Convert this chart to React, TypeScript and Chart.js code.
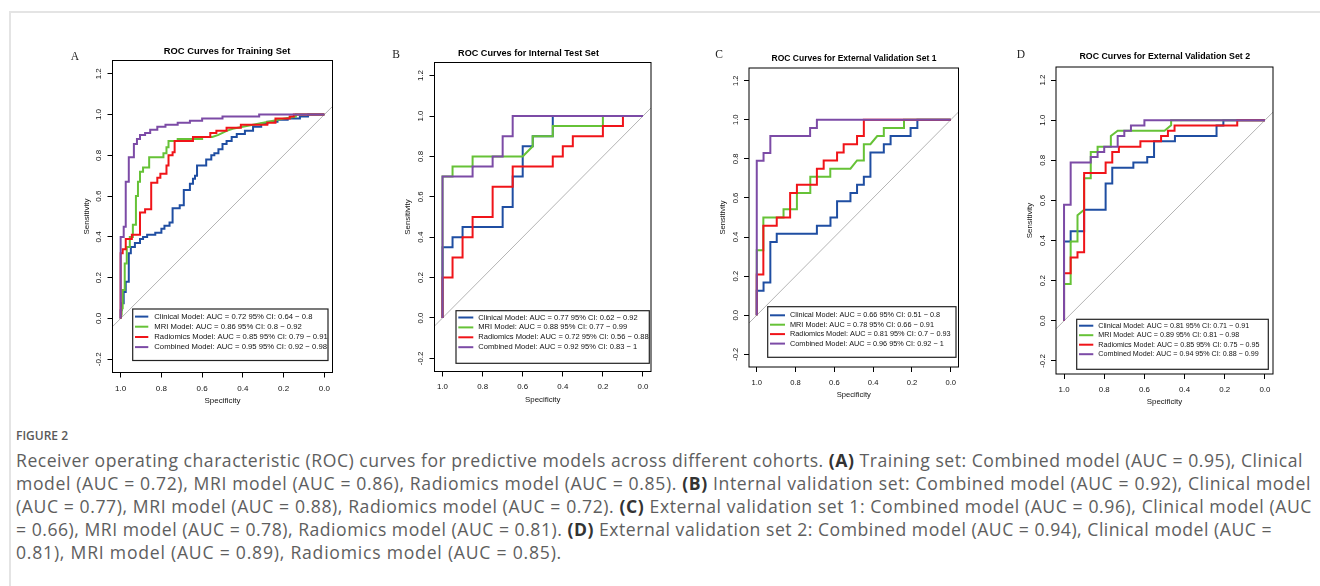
import React, { useEffect, useLayoutEffect, useRef } from "react";
import { Chart, registerables } from "chart.js";

Chart.register(...registerables);

type Pt = [number, number];

// ---------- DATA: ROC vertices as [specificity, sensitivity] ----------
// Panel A – Training set
const trainClinical: Pt[] = [[1,0],[1,0.04],[0.995,0.04],[0.995,0.075],[0.985,0.075],[0.985,0.13],[0.975,0.13],[0.975,0.18],[0.96,0.18],[0.96,0.32],[0.95,0.32],[0.95,0.35],[0.93,0.35],[0.93,0.37],[0.905,0.37],[0.905,0.39],[0.89,0.39],[0.89,0.4],[0.87,0.4],[0.87,0.41],[0.83,0.41],[0.83,0.42],[0.8,0.42],[0.8,0.44],[0.785,0.44],[0.785,0.455],[0.76,0.455],[0.76,0.47],[0.745,0.47],[0.745,0.54],[0.71,0.54],[0.71,0.555],[0.69,0.555],[0.69,0.63],[0.66,0.63],[0.66,0.66],[0.645,0.66],[0.645,0.685],[0.635,0.685],[0.635,0.7],[0.625,0.7],[0.625,0.75],[0.58,0.75],[0.58,0.78],[0.555,0.78],[0.555,0.8],[0.54,0.8],[0.54,0.81],[0.52,0.81],[0.52,0.83],[0.5,0.83],[0.5,0.855],[0.48,0.855],[0.48,0.87],[0.455,0.87],[0.455,0.89],[0.43,0.89],[0.43,0.905],[0.39,0.905],[0.39,0.92],[0.35,0.92],[0.35,0.94],[0.31,0.94],[0.31,0.955],[0.28,0.955],[0.28,0.965],[0.23,0.965],[0.23,0.975],[0.18,0.975],[0.18,0.98],[0.12,0.98],[0.12,0.99],[0.08,0.99],[0.08,1],[0,1]];
const trainMRI: Pt[] = [[1,0],[0.995,0.02],[0.995,0.05],[0.99,0.05],[0.99,0.14],[0.98,0.14],[0.98,0.27],[0.97,0.27],[0.97,0.35],[0.955,0.35],[0.955,0.4],[0.94,0.4],[0.94,0.46],[0.925,0.46],[0.925,0.6],[0.915,0.6],[0.915,0.67],[0.905,0.67],[0.905,0.72],[0.89,0.72],[0.89,0.74],[0.86,0.74],[0.86,0.79],[0.79,0.79],[0.79,0.81],[0.775,0.81],[0.775,0.84],[0.765,0.84],[0.765,0.87],[0.72,0.87],[0.72,0.88],[0.6,0.88],[0.6,0.89],[0.55,0.89],[0.52,0.9],[0.48,0.92],[0.45,0.93],[0.4,0.94],[0.35,0.95],[0.3,0.96],[0.25,0.97],[0.2,0.98],[0.14,0.99],[0.14,1],[0,1]];
const trainRadiomics: Pt[] = [[1,0],[1,0.32],[0.99,0.32],[0.99,0.34],[0.975,0.34],[0.975,0.39],[0.945,0.39],[0.945,0.41],[0.905,0.41],[0.905,0.52],[0.88,0.52],[0.88,0.535],[0.85,0.535],[0.85,0.665],[0.82,0.665],[0.82,0.69],[0.805,0.69],[0.805,0.71],[0.775,0.71],[0.775,0.75],[0.765,0.75],[0.765,0.8],[0.745,0.8],[0.745,0.815],[0.735,0.815],[0.735,0.87],[0.645,0.87],[0.645,0.89],[0.56,0.89],[0.56,0.91],[0.53,0.91],[0.53,0.92],[0.48,0.92],[0.48,0.935],[0.41,0.935],[0.41,0.95],[0.28,0.95],[0.28,0.96],[0.24,0.96],[0.24,0.98],[0.17,0.98],[0.17,0.99],[0.15,0.99],[0.15,1],[0,1]];
const trainCombined: Pt[] = [[1,0],[1,0.4],[0.985,0.4],[0.985,0.45],[0.975,0.45],[0.975,0.67],[0.96,0.67],[0.96,0.79],[0.935,0.79],[0.935,0.855],[0.92,0.855],[0.92,0.88],[0.905,0.88],[0.905,0.9],[0.88,0.9],[0.88,0.91],[0.855,0.91],[0.855,0.925],[0.82,0.925],[0.82,0.94],[0.78,0.94],[0.78,0.95],[0.72,0.95],[0.72,0.96],[0.66,0.96],[0.66,0.97],[0.6,0.97],[0.6,0.98],[0.5,0.98],[0.5,0.99],[0.32,0.99],[0.32,1],[0,1]];

// Panel B – Internal test set
const testClinical: Pt[] = [[1,0],[1,0.35],[0.95,0.35],[0.95,0.4],[0.9,0.4],[0.9,0.45],[0.7,0.45],[0.7,0.55],[0.65,0.55],[0.65,0.7],[0.6,0.7],[0.6,0.85],[0.55,0.85],[0.55,0.9],[0.45,0.9],[0.45,1],[0,1]];
const testMRI: Pt[] = [[1,0],[1,0.7],[0.95,0.7],[0.95,0.75],[0.85,0.75],[0.85,0.8],[0.6,0.8],[0.55,0.85],[0.55,0.9],[0.45,0.9],[0.45,0.95],[0.2,0.95],[0.2,1],[0,1]];
const testRadiomics: Pt[] = [[1,0],[1,0.2],[0.95,0.2],[0.95,0.3],[0.9,0.3],[0.9,0.4],[0.85,0.4],[0.85,0.5],[0.75,0.5],[0.75,0.65],[0.65,0.65],[0.65,0.75],[0.45,0.75],[0.45,0.8],[0.4,0.8],[0.4,0.85],[0.35,0.85],[0.35,0.9],[0.2,0.9],[0.2,0.95],[0.1,0.95],[0.1,1],[0,1]];
const testCombined: Pt[] = [[1,0],[1,0.7],[0.85,0.7],[0.85,0.75],[0.75,0.75],[0.75,0.8],[0.7,0.8],[0.7,0.9],[0.65,0.9],[0.65,1],[0,1]];

// Panel C – External validation set 1
const ext1Clinical: Pt[] = [[1,0],[1,0.125],[0.965,0.125],[0.965,0.167],[0.93,0.167],[0.93,0.375],[0.897,0.375],[0.897,0.417],[0.69,0.417],[0.69,0.458],[0.62,0.458],[0.62,0.5],[0.586,0.5],[0.586,0.583],[0.517,0.583],[0.517,0.625],[0.483,0.625],[0.483,0.667],[0.448,0.667],[0.448,0.708],[0.414,0.708],[0.414,0.833],[0.345,0.833],[0.345,0.875],[0.31,0.875],[0.31,0.917],[0.207,0.917],[0.207,0.958],[0.172,0.958],[0.172,1],[0,1]];
const ext1MRI: Pt[] = [[1,0],[1,0.333],[0.966,0.333],[0.966,0.5],[0.862,0.5],[0.862,0.542],[0.793,0.542],[0.793,0.625],[0.724,0.625],[0.724,0.708],[0.621,0.708],[0.621,0.75],[0.517,0.75],[0.483,0.792],[0.448,0.792],[0.448,0.875],[0.414,0.875],[0.379,0.917],[0.345,0.917],[0.345,0.958],[0.241,0.958],[0.241,1],[0,1]];
const ext1Radiomics: Pt[] = [[1,0],[1,0.208],[0.966,0.208],[0.966,0.458],[0.897,0.458],[0.897,0.5],[0.828,0.5],[0.828,0.625],[0.793,0.625],[0.793,0.667],[0.69,0.667],[0.69,0.75],[0.655,0.75],[0.655,0.792],[0.586,0.792],[0.586,0.833],[0.552,0.833],[0.552,0.875],[0.483,0.875],[0.483,0.917],[0.448,0.917],[0.448,1],[0,1]];
const ext1Combined: Pt[] = [[1,0],[1,0.79],[0.965,0.79],[0.965,0.83],[0.93,0.83],[0.93,0.917],[0.725,0.917],[0.725,0.958],[0.69,0.958],[0.69,1],[0,1]];

// Panel D – External validation set 2
const ext2Clinical: Pt[] = [[1,0],[1,0.395],[0.967,0.395],[0.967,0.447],[0.9,0.447],[0.9,0.553],[0.793,0.553],[0.793,0.684],[0.76,0.684],[0.76,0.763],[0.655,0.763],[0.655,0.789],[0.586,0.789],[0.586,0.816],[0.552,0.816],[0.552,0.895],[0.448,0.895],[0.448,0.921],[0.241,0.921],[0.241,0.974],[0.207,0.974],[0.207,1],[0,1]];
const ext2MRI: Pt[] = [[1,0],[1,0.184],[0.967,0.184],[0.967,0.395],[0.933,0.395],[0.933,0.526],[0.9,0.553],[0.9,0.711],[0.867,0.711],[0.867,0.842],[0.833,0.842],[0.833,0.868],[0.767,0.868],[0.767,0.921],[0.733,0.947],[0.5,0.947],[0.467,0.974],[0.467,1],[0,1]];
const ext2Radiomics: Pt[] = [[1,0],[1,0.237],[0.967,0.237],[0.967,0.316],[0.933,0.316],[0.933,0.342],[0.9,0.342],[0.9,0.737],[0.793,0.737],[0.793,0.789],[0.76,0.789],[0.76,0.842],[0.727,0.842],[0.727,0.868],[0.62,0.868],[0.62,0.895],[0.517,0.895],[0.517,0.921],[0.483,0.921],[0.483,0.947],[0.45,0.947],[0.45,0.974],[0.138,0.974],[0.138,1],[0,1]];
const ext2Combined: Pt[] = [[1,0],[1,0.579],[0.967,0.579],[0.967,0.789],[0.867,0.789],[0.867,0.816],[0.833,0.816],[0.833,0.842],[0.8,0.842],[0.8,0.868],[0.733,0.868],[0.733,0.921],[0.7,0.921],[0.7,0.947],[0.667,0.947],[0.667,0.974],[0.6,0.974],[0.6,1],[0,1]];

const modelNames = ["Clinical Model", "MRI Model", "Radiomics Model", "Combined Model"];
const modelColors = ["#1f4ea2", "#66c237", "#f01419", "#7c4ba6"];

const trainAUC = ["0.72", "0.86", "0.85", "0.95"];
const trainCI = ["0.64 \u2212 0.8", "0.8 \u2212 0.92", "0.79 \u2212 0.91", "0.92 \u2212 0.98"];
const testAUC = ["0.77", "0.88", "0.72", "0.92"];
const testCI = ["0.62 \u2212 0.92", "0.77 \u2212 0.99", "0.56 \u2212 0.88", "0.83 \u2212 1"];
const ext1AUC = ["0.66", "0.78", "0.81", "0.96"];
const ext1CI = ["0.51 \u2212 0.8", "0.66 \u2212 0.91", "0.7 \u2212 0.93", "0.92 \u2212 1"];
const ext2AUC = ["0.81", "0.89", "0.85", "0.94"];
const ext2CI = ["0.71 \u2212 0.91", "0.81 \u2212 0.98", "0.75 \u2212 0.95", "0.88 \u2212 0.99"];

const panelLetters = ["A", "B", "C", "D"];
const panelTitles = [
  "ROC Curves for Training Set",
  "ROC Curves for Internal Test Set",
  "ROC Curves for External Validation Set 1",
  "ROC Curves for External Validation Set 2",
];

const xTicks = [1.0, 0.8, 0.6, 0.4, 0.2, 0.0];
const yTicks = [-0.2, 0.0, 0.2, 0.4, 0.6, 0.8, 1.0, 1.2];
const diagonal: Pt[] = [[1.04, -0.04], [-0.04, 1.04]];

const captionHeading = "FIGURE 2";
const captionLines: [string, string, string][] = [
  ["Receiver operating characteristic (ROC) curves for predictive models across different cohorts. ", "(A)", " Training set: Combined model (AUC = 0.95), Clinical"],
  ["model (AUC = 0.72), MRI model (AUC = 0.86), Radiomics model (AUC = 0.85). ", "(B)", " Internal validation set: Combined model (AUC = 0.92), Clinical model"],
  ["(AUC = 0.77), MRI model (AUC = 0.88), Radiomics model (AUC = 0.72). ", "(C)", " External validation set 1: Combined model (AUC = 0.96), Clinical model (AUC"],
  ["= 0.66), MRI model (AUC = 0.78), Radiomics model (AUC = 0.81). ", "(D)", " External validation set 2: Combined model (AUC = 0.94), Clinical model (AUC ="],
  ["0.81), MRI model (AUC = 0.89), Radiomics model (AUC = 0.85).", "", ""],
];

const panelCurves: Pt[][][] = [
  [trainClinical, trainMRI, trainRadiomics, trainCombined],
  [testClinical, testMRI, testRadiomics, testCombined],
  [ext1Clinical, ext1MRI, ext1Radiomics, ext1Combined],
  [ext2Clinical, ext2MRI, ext2Radiomics, ext2Combined],
];
const panelAUC = [trainAUC, testAUC, ext1AUC, ext2AUC];
const panelCI = [trainCI, testCI, ext1CI, ext2CI];

// ---------- LAYOUT (page pixel positions) ----------
type Layout = {
  canvas: { left: number; top: number; width: number; height: number };
  frame: { l: number; t: number; r: number; b: number };
  titleX: number; titleY: number; titleSize: number;
  letterX: number; letterY: number;
  tickSize: number;
  legend: { l: number; t: number; r: number; b: number; rows: number[]; lineX: [number, number]; textX: number; size: number };
};

const layouts: Layout[] = [
  {
    canvas: { left: 60, top: 30, width: 310, height: 390 },
    frame: { l: 112.5, t: 60.5, r: 332.5, b: 372.5 },
    titleX: 227, titleY: 51, titleSize: 9.4, letterX: 75, letterY: 57, tickSize: 8,
    legend: { l: 132.7, t: 309, r: 328, b: 360.5, rows: [316.6, 326.7, 337, 347.1], lineX: [135, 148.3], textX: 154.3, size: 7.7 },
  },
  {
    canvas: { left: 375, top: 30, width: 310, height: 390 },
    frame: { l: 434.5, t: 62.5, r: 651, b: 371.5 },
    titleX: 528.5, titleY: 53.3, titleSize: 9.1, letterX: 396, letterY: 55, tickSize: 7.9,
    legend: { l: 456, t: 310.7, r: 649.3, b: 363.3, rows: [317.5, 327.4, 337.3, 347.2], lineX: [458.3, 473.3], textX: 478.3, size: 7.55 },
  },
  {
    canvas: { left: 690, top: 30, width: 310, height: 390 },
    frame: { l: 749, t: 68, r: 958.5, b: 367 },
    titleX: 854, titleY: 59, titleSize: 8.5, letterX: 719, letterY: 55.3, tickSize: 7.6,
    legend: { l: 767.7, t: 306.7, r: 956, b: 357.3, rows: [315.3, 324.7, 334.1, 343.6], lineX: [770, 785], textX: 790, size: 7.3 },
  },
  {
    canvas: { left: 1005, top: 30, width: 310, height: 390 },
    frame: { l: 1056, t: 67, r: 1273, b: 374 },
    titleX: 1164.8, titleY: 56.7, titleSize: 8.8, letterX: 1021, letterY: 55.3, tickSize: 7.9,
    legend: { l: 1076.7, t: 319.3, r: 1268.3, b: 369.3, rows: [325.7, 335.2, 344.7, 354.2], lineX: [1079, 1093.3], textX: 1098.3, size: 7.15 },
  },
];

// right edge (page x) of each caption line in the reference
const captionLineEnds = [1303, 1311, 1312, 1272, 562];

const Y_AXIS_W = 31;
const X_AXIS_H = 32.8;
const SANS = '"Liberation Sans", Arial, sans-serif';
const SERIF = '"Liberation Serif", "Times New Roman", serif';

function RocPanel({ index }: { index: number }) {
  const ref = useRef<HTMLCanvasElement | null>(null);
  const lay = layouts[index];

  useEffect(() => {
    if (!ref.current) return;
    const c = lay.canvas;
    const f = lay.frame;
    const ox = c.left;
    const oy = c.top;
    const curves = panelCurves[index];
    const auc = panelAUC[index];
    const ci = panelCI[index];

    const decor = {
      id: "rocDecor",
      afterDraw(chart: any) {
        const ctx = chart.ctx as CanvasRenderingContext2D;
        const ca = chart.chartArea;
        ctx.save();
        ctx.strokeStyle = "#000";
        ctx.lineWidth = 1;
        ctx.strokeRect(ca.left, ca.top, ca.right - ca.left, ca.bottom - ca.top);
        const lg = lay.legend;
        ctx.fillStyle = "#fff";
        ctx.fillRect(lg.l - ox, lg.t - oy, lg.r - lg.l, lg.b - lg.t);
        ctx.strokeStyle = "#222";
        ctx.lineWidth = 1.2;
        ctx.strokeRect(lg.l - ox, lg.t - oy, lg.r - lg.l, lg.b - lg.t);
        ctx.font = `${lg.size}px ${SANS}`;
        ctx.textAlign = "left";
        ctx.textBaseline = "middle";
        for (let i = 0; i < modelNames.length; i++) {
          const y = lg.rows[i] - oy;
          ctx.strokeStyle = modelColors[i];
          ctx.lineWidth = 2;
          ctx.beginPath();
          ctx.moveTo(lg.lineX[0] - ox, y);
          ctx.lineTo(lg.lineX[1] - ox, y);
          ctx.stroke();
          ctx.fillStyle = "#111";
          ctx.fillText(`${modelNames[i]}: AUC = ${auc[i]} 95% CI: ${ci[i]}`, lg.textX - ox, y);
        }
        ctx.fillStyle = "#000";
        ctx.font = `bold ${lay.titleSize}px ${SANS}`;
        ctx.textAlign = "center";
        ctx.fillText(panelTitles[index], lay.titleX - ox, lay.titleY - oy);
        ctx.fillStyle = "#222";
        ctx.font = `11.5px ${SERIF}`;
        ctx.fillText(panelLetters[index], lay.letterX - ox, lay.letterY - oy);
        ctx.restore();
      },
    };

    const datasets: any[] = [
      {
        data: diagonal.map(([x, y]) => ({ x, y })),
        borderColor: "#b4b4b4",
        borderWidth: 1,
        pointRadius: 0,
        order: 10,
      },
    ];
    curves.forEach((pts, i) => {
      datasets.push({
        label: modelNames[i],
        data: pts.map(([x, y]) => ({ x, y })),
        borderColor: modelColors[i],
        borderWidth: 2,
        pointRadius: 0,
        tension: 0,
        order: 4 - i,
      });
    });

    const tickFont = { family: SANS, size: lay.tickSize };

    const chart = new Chart(ref.current, {
      type: "line",
      data: { datasets },
      plugins: [decor],
      options: {
        responsive: false,
        animation: false,
        devicePixelRatio: 1,
        events: [],
        layout: {
          padding: {
            left: f.l - Y_AXIS_W - c.left,
            top: f.t - c.top,
            right: c.left + c.width - f.r,
            bottom: c.top + c.height - f.b - X_AXIS_H,
          },
        },
        plugins: { legend: { display: false }, tooltip: { enabled: false }, title: { display: false } },
        scales: {
          x: {
            type: "linear",
            reverse: true,
            min: -0.04,
            max: 1.04,
            afterBuildTicks: (s: any) => {
              s.ticks = xTicks.map((v) => ({ value: v }));
            },
            afterFit: (s: any) => {
              s.height = X_AXIS_H;
            },
            grid: { drawOnChartArea: false, drawTicks: true, tickLength: 5, color: "#000", lineWidth: 1 },
            border: { display: false },
            ticks: {
              font: tickFont,
              color: "#111",
              padding: 6,
              maxRotation: 0,
              minRotation: 0,
              autoSkip: false,
              callback: (v: any) => Number(v).toFixed(1),
            },
            title: { display: true, text: "Specificity", font: tickFont, color: "#111", padding: 0 },
          },
          y: {
            type: "linear",
            min: -0.265,
            max: 1.265,
            afterBuildTicks: (s: any) => {
              s.ticks = yTicks.map((v) => ({ value: v }));
            },
            afterFit: (s: any) => {
              s.width = Y_AXIS_W;
            },
            grid: { drawOnChartArea: false, drawTicks: true, tickLength: 5, color: "#000", lineWidth: 1 },
            border: { display: false },
            ticks: {
              font: tickFont,
              color: "#111",
              padding: 1.5,
              minRotation: 90,
              maxRotation: 90,
              crossAlign: "center",
              autoSkip: false,
              callback: (v: any) => Number(v).toFixed(1),
            },
            title: { display: true, text: "Sensitivity", font: tickFont, color: "#111", padding: 0 },
          },
        },
      } as any,
    });
    return () => chart.destroy();
  }, [index]);

  const c = lay.canvas;
  return (
    <canvas
      ref={ref}
      width={c.width}
      height={c.height}
      style={{ position: "absolute", left: c.left, top: c.top, width: c.width, height: c.height }}
    />
  );
}

const CAPTION_LEFT = 16;

function Caption() {
  const spans = useRef<(HTMLSpanElement | null)[]>([]);
  useLayoutEffect(() => {
    const fit = () => {
      spans.current.forEach((el, i) => {
        if (!el) return;
        el.style.letterSpacing = "0px";
        const w = el.getBoundingClientRect().width;
        const n = (el.textContent || "").length;
        const target = captionLineEnds[i] - CAPTION_LEFT;
        if (n > 1) el.style.letterSpacing = `${(target - w) / n}px`;
      });
    };
    fit();
    if ((document as any).fonts && (document as any).fonts.ready) {
      (document as any).fonts.ready.then(fit);
    }
  }, []);
  return (
    <div
      style={{
        position: "absolute",
        left: CAPTION_LEFT,
        top: 448.5,
        font: '17.6px "Open Sans", sans-serif',
        color: "#5e5e5e",
        lineHeight: "23px",
        whiteSpace: "nowrap",
      }}
    >
      {captionLines.map((ln, i) => (
        <div key={i}>
          <span ref={(el) => { spans.current[i] = el; }} style={{ display: "inline-block" }}>
            {ln[0]}
            {ln[1] ? <b style={{ color: "#333", fontWeight: 700 }}>{ln[1]}</b> : null}
            {ln[2]}
          </span>
        </div>
      ))}
    </div>
  );
}

export default function App() {
  return (
    <div
      style={{
        position: "fixed",
        left: 0,
        top: 0,
        width: 1320,
        height: 586,
        background: "#fff",
        overflow: "hidden",
      }}
    >
      <div
        style={{
          position: "absolute",
          left: 9,
          top: 11,
          width: 1320,
          height: 600,
          borderLeft: "2px solid #e4e4e4",
          borderTop: "2px solid #e4e4e4",
        }}
      />
      {[0, 1, 2, 3].map((i) => (
        <RocPanel key={i} index={i} />
      ))}
      <div
        style={{
          position: "absolute",
          left: CAPTION_LEFT,
          top: 428,
          font: '600 12px "Open Sans", sans-serif',
          color: "#5a5a5a",
          lineHeight: "16px",
          whiteSpace: "nowrap",
        }}
      >
        {captionHeading}
      </div>
      <Caption />
    </div>
  );
}
